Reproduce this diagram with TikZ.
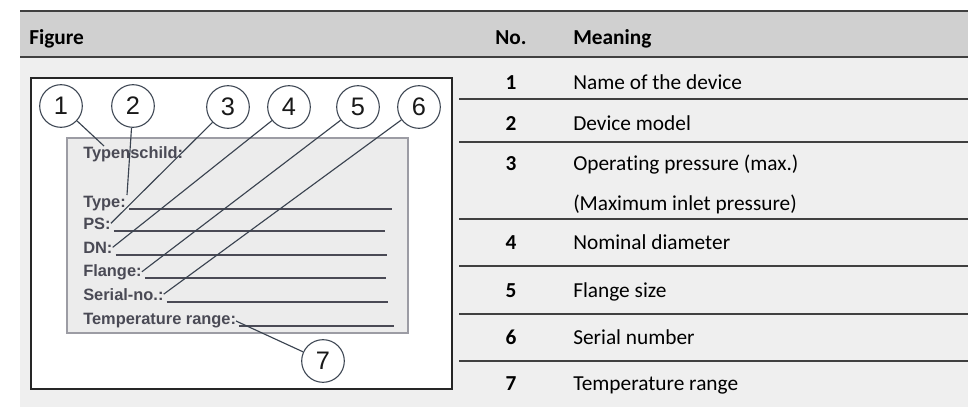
\documentclass[tikz,border=0pt]{standalone}
\usepackage{fontspec}
\setmainfont{Carlito}[Ligatures=NoCommon]
\newfontfamily\platefont{Liberation Sans}
\usepackage{xcolor}
\usetikzlibrary{positioning, calc}
\definecolor{HeadBg}{HTML}{D0D0D0}
\definecolor{BodyBg}{HTML}{EFEFEF}
\definecolor{RuleGray}{HTML}{404040}
\definecolor{PlateBg}{HTML}{ECECEC}
\definecolor{PlateEdge}{HTML}{9C9CA4}
\definecolor{PlateText}{HTML}{4A4A55}
\definecolor{LeaderInk}{HTML}{3A4350}

\begin{document}
\begin{tikzpicture}[x=0.75pt,y=-0.75pt,
  callout/.style={circle, draw=LeaderInk, line width=0.8pt, fill=white, minimum size=32pt, inner sep=0pt, text=black!90, font=\platefont\fontsize{19}{20}\selectfont},
  leader/.style={draw=LeaderInk, line width=0.85pt},
  field/.style={anchor=base west, inner sep=0pt, text=PlateText, font=\platefont\bfseries\fontsize{12.3}{14}\selectfont},
  blank/.style={draw=PlateText, line width=1pt},
  rowtxt/.style={anchor=base west, inner sep=0pt, font=\fontsize{16}{19}\selectfont},
  rownum/.style={anchor=base, inner sep=0pt, font=\bfseries\fontsize{16}{19}\selectfont},
  rowrule/.style={draw=RuleGray, line width=1.5pt}]
            \useasboundingbox (0,0) rectangle (968,407);
            % table background and header
            \fill[BodyBg] (20,57) rectangle (968,407);
            \fill[HeadBg] (20,11) rectangle (968,57);
            \draw[rowrule] (20,11) -- (968,11);
            \draw[rowrule] (20,57) -- (968,57);
            \node[rowtxt, font=\bfseries\fontsize{16}{19}\selectfont] (hfig) at (29,44) {Figure};
            \node[rownum] (hno) at (511,44) {No.};
            \node[rowtxt, font=\bfseries\fontsize{16}{19}\selectfont] (hmean) at (573,44) {Meaning};
            % row rules
            \draw[rowrule] (459,99) -- (968,99);
            \draw[rowrule] (459,142) -- (968,142);
            \draw[rowrule] (459,219) -- (968,219);
            \draw[rowrule] (459,266) -- (968,266);
            \draw[rowrule] (459,314) -- (968,314);
            \draw[rowrule] (459,361) -- (968,361);
            % rows
            \node[rownum] (n1) at (511,89) {1};
            \node[rowtxt] (m1) at (573,89) {Name of the device};
            \node[rownum] (n2) at (511,130) {2};
            \node[rowtxt] (m2) at (573,130) {Device model};
            \node[rownum] (n3) at (511,170) {3};
            \node[rowtxt] (m3) at (573,170) {Operating pressure (max.)};
            \node[rowtxt] (m3b) at (573,210) {(Maximum inlet pressure)};
            \node[rownum] (n4) at (511,249) {4};
            \node[rowtxt] (m4) at (573,249) {Nominal diameter};
            \node[rownum] (n5) at (511,297) {5};
            \node[rowtxt] (m5) at (573,297) {Flange size};
            \node[rownum] (n6) at (511,344) {6};
            \node[rowtxt] (m6) at (573,344) {Serial number};
            \node[rownum] (n7) at (511,390) {7};
            \node[rowtxt] (m7) at (573,390) {Temperature range};
            % figure frame and name plate
            \draw[fill=white, draw=black!85, line width=1.1pt] (31,78) rectangle (452,389);
            \draw[fill=PlateBg, draw=PlateEdge, line width=0.8pt] (67,138) rectangle (408,333);
            \node[field] (ttl) at (83,158) {Typenschild:};
            \node[field] (fty) at (83,207) {Type:};
            \node[field] (fps) at (83,229) {PS:};
            \node[field] (fdn) at (83,253) {DN:};
            \node[field] (ffl) at (83,276) {Flange:};
            \node[field] (fsn) at (83,300) {Serial-no.:};
            \node[field] (ftr) at (83,324) {Temperature range:};
            \draw[blank] ($(fty.base east)+(3,2)$) -- (392,209);
            \draw[blank] ($(fps.base east)+(3,2)$) -- (385,231);
            \draw[blank] ($(fdn.base east)+(3,2)$) -- (387,255);
            \draw[blank] ($(ffl.base east)+(3,2)$) -- (386,278);
            \draw[blank] ($(fsn.base east)+(3,2)$) -- (388,302);
            \draw[blank] ($(ftr.base east)+(3,2)$) -- (394,326);
            % callouts
            \node[callout] (c1) at (61,106) {1};
            \node[callout] (c2) at (133,106) {2};
            \node[callout] (c3) at (228,107) {3};
            \node[callout] (c4) at (289,107) {4};
            \node[callout] (c5) at (358,107) {5};
            \node[callout] (c6) at (419,107) {6};
            \node[callout] (c7) at (323,361) {7};
            \coordinate (nameTip) at (104,146);
            \coordinate (typeTip) at (127,195);
            \coordinate (tempTip) at (236,321);
            \draw[leader] (c1) -- (nameTip);
            \draw[leader] (c2) -- (typeTip);
            \draw[leader] (c3) -- (fps.east);
            \draw[leader] (c4) -- (fdn.east);
            \draw[leader] (c5) -- (ffl.east);
            \draw[leader] (c6) -- (fsn.east);
            \draw[leader] (c7) -- (tempTip);
        \end{tikzpicture}
\end{document}
